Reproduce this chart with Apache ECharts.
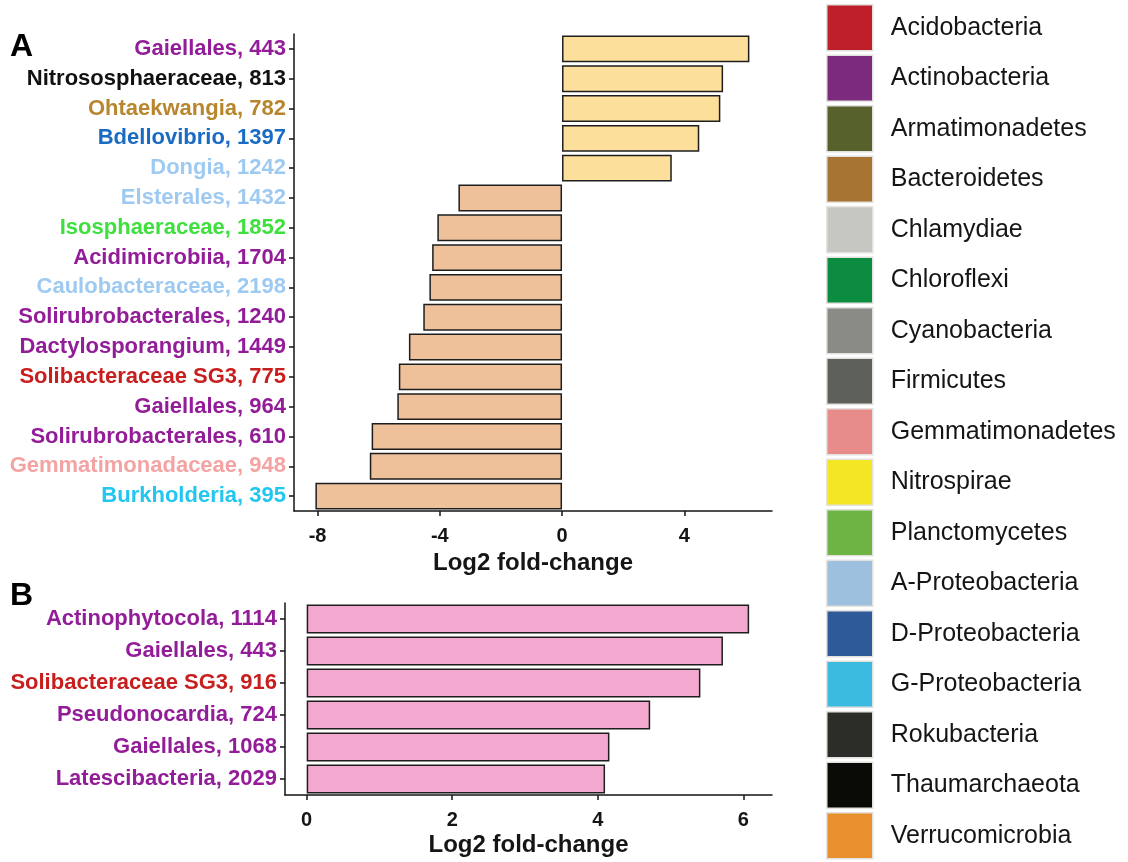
<!DOCTYPE html>
<html>
<head>
<meta charset="utf-8">
<script src="https://cdn.jsdelivr.net/npm/echarts@6/dist/echarts.min.js"></script>
<style>
html,body{margin:0;padding:0;background:#fff;}
#chart{width:1128px;height:862px;}
</style>
</head>
<body>
<div id="chart"></div>
<script>
// ---- Panel A data (top to bottom) ----
const catsA = [
  'Gaiellales, 443', 'Nitrososphaeraceae, 813', 'Ohtaekwangia, 782', 'Bdellovibrio, 1397',
  'Dongia, 1242', 'Elsterales, 1432', 'Isosphaeraceae, 1852', 'Acidimicrobiia, 1704',
  'Caulobacteraceae, 2198', 'Solirubrobacterales, 1240', 'Dactylosporangium, 1449',
  'Solibacteraceae SG3, 775', 'Gaiellales, 964', 'Solirubrobacterales, 610',
  'Gemmatimonadaceae, 948', 'Burkholderia, 395'
];
const valuesA = [6.13, 5.27, 5.18, 4.49, 3.59, -3.39, -4.08, -4.25, -4.34, -4.54, -5.01, -5.34, -5.39, -6.23, -6.29, -8.07];
const labelColorsA = [
  '#931c99', '#111111', '#b8862c', '#1a6bc4', '#9ecaf2', '#9ecaf2', '#3ee03e', '#931c99',
  '#9ecaf2', '#931c99', '#931c99', '#c81e1e', '#931c99', '#931c99', '#f4a3a3', '#22c6ee'
];
const ticksA = [-8, -4, 0, 4];

// ---- Panel B data (top to bottom) ----
const catsB = [
  'Actinophytocola, 1114', 'Gaiellales, 443', 'Solibacteraceae SG3, 916',
  'Pseudonocardia, 724', 'Gaiellales, 1068', 'Latescibacteria, 2029'
];
const valuesB = [6.08, 5.72, 5.41, 4.72, 4.16, 4.10];
const labelColorsB = ['#931c99', '#931c99', '#c81e1e', '#931c99', '#931c99', '#931c99'];
const ticksB = [0, 2, 4, 6];

// ---- Legend (phyla) ----
const phyla = [
  'Acidobacteria', 'Actinobacteria', 'Armatimonadetes', 'Bacteroidetes', 'Chlamydiae',
  'Chloroflexi', 'Cyanobacteria', 'Firmicutes', 'Gemmatimonadetes', 'Nitrospirae',
  'Planctomycetes', 'A-Proteobacteria', 'D-Proteobacteria', 'G-Proteobacteria',
  'Rokubacteria', 'Thaumarchaeota', 'Verrucomicrobia'
];
const phylaColors = [
  '#be1f2b', '#7b2a7d', '#57612c', '#a87433', '#c6c7c2', '#0c8c40', '#8a8b86', '#5e605a',
  '#e78c8a', '#f2e625', '#6db444', '#9cc0dd', '#2e5a9a', '#3cbbe0', '#2c2d29', '#0a0a07', '#e88f2e'
];

const FONT = '"Liberation Sans", Arial, sans-serif';
const INK = '#151515';

function axisX(gridIndex, min, max, ticks, gap) {
  return {
    type: 'value', gridIndex: gridIndex, min: min, max: max,
    name: 'Log2 fold-change', nameLocation: 'middle', nameGap: gap,
    nameTextStyle: {fontFamily: FONT, fontWeight: 'bold', fontSize: 24, color: INK},
    splitLine: {show: false},
    axisLine: {show: true, onZero: false, lineStyle: {color: INK, width: 1.5}},
    axisTick: {show: true, length: 5, customValues: ticks, lineStyle: {color: INK, width: 1.5}},
    axisLabel: {customValues: ticks, margin: 15, fontFamily: FONT, fontWeight: 'bold', fontSize: 20, color: INK}
  };
}
function axisY(gridIndex, cats, colors) {
  return {
    type: 'category', gridIndex: gridIndex, data: cats, inverse: true,
    axisLine: {show: true, onZero: false, lineStyle: {color: INK, width: 1.5}},
    axisTick: {show: true, alignWithLabel: true, length: 5, lineStyle: {color: INK, width: 1.5}},
    axisLabel: {
      margin: 8, fontFamily: FONT, fontWeight: 'bold', fontSize: 22,
      color: function (v, i) { return colors[i]; }
    },
    splitLine: {show: false}
  };
}

const legendSeries = phyla.map(function (p, i) {
  return {
    type: 'scatter', name: p, xAxisIndex: 0, yAxisIndex: 0, data: [],
    itemStyle: {color: phylaColors[i], opacity: 1}
  };
});

const option = {
  backgroundColor: '#ffffff',
  animation: false,
  grid: [
    {left: 294, right: 356, top: 34, height: 477},
    {left: 285, right: 356, top: 603, height: 192}
  ],
  xAxis: [axisX(0, -8.77, 6.87, ticksA, 40), axisX(1, -0.298, 6.394, ticksB, 38)],
  yAxis: [axisY(0, catsA, labelColorsA), axisY(1, catsB, labelColorsB)],
  legend: {
    orient: 'vertical', left: 826, top: 4, padding: 0, height: 860,
    itemWidth: 46, itemHeight: 46, itemGap: 3,
    icon: 'rect', selectedMode: false,
    itemStyle: {borderColor: '#e4e2de', borderWidth: 1.5, opacity: 1},
    textStyle: {fontFamily: FONT, fontSize: 25, color: INK, padding: [0, 0, 0, 13]},
    data: phyla
  },
  graphic: [
    {type: 'text', left: 10, top: 31, style: {text: 'A', font: 'bold 32px ' + FONT, fill: '#000'}},
    {type: 'text', left: 10, top: 580, style: {text: 'B', font: 'bold 32px ' + FONT, fill: '#000'}}
  ],
  series: [
    {
      type: 'bar', xAxisIndex: 0, yAxisIndex: 0, data: valuesA, barCategoryGap: '10%',
      itemStyle: {
        borderColor: '#1e1e1e', borderWidth: 1.5,
        color: function (p) { return p.value >= 0 ? '#fddf9c' : '#efc19b'; }
      }
    },
    {
      type: 'bar', xAxisIndex: 1, yAxisIndex: 1, data: valuesB, barCategoryGap: '10%',
      itemStyle: {borderColor: '#1e1e1e', borderWidth: 1.5, color: '#f3a9cf'}
    }
  ].concat(legendSeries)
};

const chart = echarts.init(document.getElementById('chart'), null, {renderer: 'canvas'});
chart.setOption(option);
</script>
</body>
</html>
